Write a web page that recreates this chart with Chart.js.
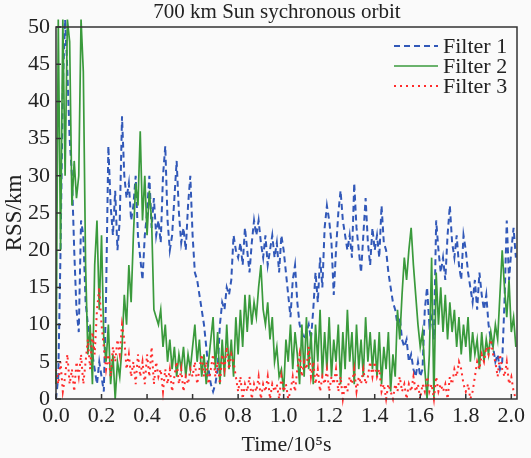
<!DOCTYPE html>
<html>
<head>
<meta charset="utf-8">
<script src="https://cdn.jsdelivr.net/npm/chart.js@4.4.1/dist/chart.umd.min.js"></script>
<style>
  html, body { margin: 0; padding: 0; background: #fafafa; }
  #wrap { width: 531px; height: 458px; position: relative; }
</style>
</head>
<body>
<div id="wrap"><canvas id="rss-chart"></canvas></div>
<script>
  // one value every 0.01 x 10^5 s
  const timeStep = 0.01;
  const filter1 = [
    0, 3, 20, 42, 51, 44, 35, 30, 20, 12,
    9, 24, 22, 13, 10, 8, 6, 4, 2, 5,
    3, 1, 14, 34, 26, 22, 28, 20, 24, 38,
    30, 27, 29, 24, 26, 30, 22, 19, 16, 22,
    25, 30, 23, 27, 22, 24, 21, 30, 34, 24,
    20, 22, 27, 32, 25, 21, 23, 20, 26, 30,
    22, 17, 16, 14, 12, 10, 7, 4, 2, 1,
    2, 4, 10, 13, 12, 15, 14, 16, 22, 20,
    19, 21, 18, 23, 20, 17, 21, 24, 22, 24,
    21, 19, 22, 18, 20, 22, 19, 21, 17, 22,
    20, 17, 14, 11, 16, 18, 13, 10, 9, 8,
    9, 10, 8, 12, 17, 13, 19, 15, 23, 26,
    24, 21, 14, 20, 25, 28, 24, 22, 20, 22,
    19, 29, 23, 20, 17, 22, 27, 21, 18, 23,
    20, 22, 19, 26, 21, 20, 17, 15, 13, 12,
    10, 11, 8, 7, 8, 5, 6, 4, 3, 5,
    3, 4, 12, 15, 10, 11, 8, 24, 20, 17,
    19, 16, 22, 26, 21, 19, 22, 18, 16, 22,
    20, 17, 15, 13, 16, 12, 17, 14, 12, 14,
    10, 8, 7, 5, 6, 4, 5, 13, 24, 16,
    20, 23, 19
  ];
  const filter2 = [
    2, 51, 20, 51, 30, 51, 48, 26, 32, 27,
    30, 51, 44, 18, 6, 10, 2, 18, 24, 12,
    22, 8, 5, 10, 2, 6, 0, 5, 3, 7,
    14, 10, 18, 13, 22, 29, 26, 36, 24, 30,
    22, 28, 24, 12, 11, 10, 12, 7, 10, 5,
    8, 4, 7, 3, 6, 4, 7, 3, 6, 4,
    7, 10, 5, 8, 3, 6, 2, 5, 8, 11,
    4, 9, 2, 8, 3, 10, 4, 8, 3, 11,
    6, 12, 7, 14, 9, 14, 10, 13, 11, 15,
    18, 12, 10, 13, 8, 11, 5, 7, 3, 4,
    1, 8, 5, 10, 4, 9, 6, 2, 10, 3,
    11, 4, 9, 2, 10, 5, 12, 3, 9, 4,
    11, 3, 8, 5, 10, 2, 9, 4, 12, 5,
    9, 2, 10, 4, 8, 3, 11, 5, 9, 4,
    8, 3, 9, 2, 7, 4, 9, 1, 6, 3,
    12, 8, 14, 19, 16, 20, 23, 18, 14, 10,
    7, 9, 4, 0, 6, 19, 0, 17, 10, 15,
    9, 14, 8, 13, 9, 12, 7, 11, 6, 10,
    7, 11, 5, 9, 6, 8, 4, 9, 5, 8,
    6, 9, 7, 10, 8, 14, 20, 15, 11, 16,
    9, 11, 7
  ];
  const filter3 = [
    4, 2, 5, 1, 3, 6, 2, 4, 1, 5,
    3, 6, 2, 5, 8, 4, 9, 6, 12, 15,
    10, 7, 4, 6, 3, 7, 5, 8, 6, 10,
    8, 4, 6, 3, 5, 2, 6, 3, 5, 2,
    6, 3, 7, 2, 5, 3, 4, 1, 4, 2,
    4, 1, 3, 5, 2, 4, 1, 3, 2, 4,
    3, 5, 2, 4, 6, 3, 5, 2, 4, 6,
    3, 5, 2, 6, 4, 7, 4, 6, 5, 3,
    1, 3, 0, 2, 1, 3, 0, 2, 1, 3,
    0, 2, 1, 3, 0, 2, 1, 2, 0, 3,
    1, 2, 0, 1, 3, 1, 4, 6, 3, 5,
    4, 7, 3, 5, 2, 4, 1, 3, 2, 4,
    1, 3, 2, 4, 1, 3, 0, 2, 1, 3,
    2, 4, 1, 3, 2, 4, 2, 3, 5, 3,
    5, 3, 4, 1, 2, 0, 2, 1, 0, 2,
    1, 3, 1, 2, 0, 2, 1, 3, 1, 2,
    0, 2, 1, 3, 1, 2, 0, 3, 1, 2,
    1, 2, 0, 3, 2, 4, 3, 5, 4, 2,
    1, 2, 0, 1, 3, 5, 4, 6, 5, 7,
    6, 8, 6, 5, 3, 6, 4, 3, 5, 2,
    3, 1, 0
  ];
  const times = filter1.map((_, i) => +(i * timeStep).toFixed(2));
  const xTicks = [0, 0.2, 0.4, 0.6, 0.8, 1.0, 1.2, 1.4, 1.6, 1.8, 2.0];
  const yTicks = [0, 5, 10, 15, 20, 25, 30, 35, 40, 45, 50];

  const serif = '"Liberation Serif", "Times New Roman", serif';
  Chart.defaults.font.family = serif;
  Chart.defaults.font.size = 21;
  Chart.defaults.color = '#222';

  // frame, inward ticks, title and legend
  const decor = {
    id: 'decor',
    afterDraw(chart) {
      const { ctx, chartArea: a, scales } = chart;
      ctx.save();
      ctx.strokeStyle = '#333';
      ctx.lineWidth = 1.5;
      ctx.strokeRect(a.left, a.top, a.right - a.left, a.bottom - a.top);
      ctx.beginPath();
      xTicks.forEach(v => {
        const px = scales.x.getPixelForValue(v);
        ctx.moveTo(px, a.bottom);
        ctx.lineTo(px, a.bottom - 5);
      });
      yTicks.forEach(v => {
        const py = scales.y.getPixelForValue(v);
        ctx.moveTo(a.left, py);
        ctx.lineTo(a.left + 5, py);
      });
      ctx.stroke();

      ctx.fillStyle = '#222';
      ctx.font = '21px ' + serif;
      ctx.textAlign = 'center';
      ctx.textBaseline = 'middle';
      ctx.fillText('700 km Sun sychronous orbit', 277, 12);

      ctx.textAlign = 'left';
      ctx.font = '22px ' + serif;
      chart.data.datasets.forEach((ds, i) => {
        const y = 46 + i * 20;
        ctx.beginPath();
        ctx.strokeStyle = ds.borderColor;
        ctx.lineWidth = ds.borderWidth;
        ctx.setLineDash(ds.borderDash || []);
        ctx.moveTo(394, y);
        ctx.lineTo(438, y);
        ctx.stroke();
        ctx.setLineDash([]);
        ctx.fillText(ds.label, 443, y + 1);
      });
      ctx.restore();
    }
  };

  new Chart(document.getElementById('rss-chart'), {
    type: 'line',
    data: {
      labels: times,
      datasets: [
        {
          label: 'Filter 1',
          data: filter1,
          borderColor: '#3158b8',
          borderWidth: 2,
          borderDash: [6, 4],
          pointRadius: 0,
          order: 3,
          clip: 8
        },
        {
          label: 'Filter 2',
          data: filter2,
          borderColor: '#3a9a3c',
          borderWidth: 1.7,
          pointRadius: 0,
          order: 2,
          clip: 8
        },
        {
          label: 'Filter 3',
          data: filter3,
          borderColor: '#ff2b2b',
          borderWidth: 2,
          borderDash: [2, 4],
          pointRadius: 0,
          order: 1,
          clip: 8
        }
      ]
    },
    options: {
      responsive: true,
      maintainAspectRatio: false,
      animation: false,
      layout: { padding: { top: 27, right: 14, left: 0, bottom: 0 } },
      plugins: {
        legend: { display: false },
        tooltip: { enabled: false }
      },
      scales: {
        x: {
          type: 'linear',
          min: 0,
          max: 2.025,
          afterBuildTicks: s => { s.ticks = xTicks.map(v => ({ value: v })); },
          afterFit: s => { s.height = 59; },
          grid: { display: false, drawTicks: false },
          border: { display: false },
          ticks: { padding: 4, maxRotation: 0, font: { size: 22 }, callback: v => v.toFixed(1) },
          title: { display: true, text: 'Time/10⁵s', font: { size: 22 }, padding: { top: 0, bottom: 0 } }
        },
        y: {
          min: 0,
          max: 50,
          afterBuildTicks: s => { s.ticks = yTicks.map(v => ({ value: v })); },
          afterFit: s => { s.width = 56; },
          grid: { display: false, drawTicks: false },
          border: { display: false },
          ticks: { padding: 6, font: { size: 22 } },
          title: { display: true, text: 'RSS/km', font: { size: 23 }, padding: { top: 1, bottom: 0 } }
        }
      }
    },
    plugins: [decor]
  });
</script>
</body>
</html>
